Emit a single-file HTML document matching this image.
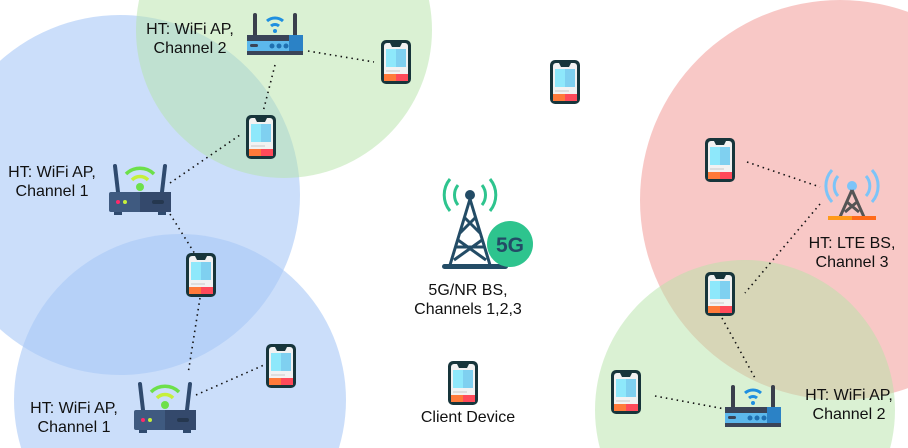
<!DOCTYPE html>
<html><head><meta charset="utf-8"><style>
html,body{margin:0;padding:0;background:#fff;width:908px;height:448px;overflow:hidden}
svg{display:block;overflow:hidden}
text{font-family:"Liberation Sans",Arial,sans-serif;font-size:16px;fill:#111;text-anchor:middle}
</style></head><body>
<svg width="908" height="448" viewBox="0 0 908 448" xmlns="http://www.w3.org/2000/svg">
<defs>
<clipPath id="clip"><rect x="0" y="0" width="908" height="448"/></clipPath>
<g id="phone">
<rect x="-15" y="-22" width="30" height="44" rx="5" fill="#17353b"/>
<rect x="-12" y="-19" width="24" height="38" rx="3" fill="#f2f2f2"/>
<path d="M-6,-19 h12 l-2,4 h-8z" fill="#17353b"/>
<rect x="-10" y="-13" width="20" height="18" fill="#8ee8fb"/>
<rect x="0" y="-13" width="10" height="18" fill="#7fd0f0"/>
<rect x="-10" y="8" width="14" height="2" fill="#ddd"/>
<rect x="-12" y="12" width="12" height="7" fill="#ff7a3a"/>
<rect x="0" y="12" width="12" height="7" fill="#ff4a5a"/>
</g>
<g id="routerG">
<line x1="-22" y1="-8" x2="-25" y2="-34" stroke="#2f4a6e" stroke-width="4" stroke-linecap="round"/>
<line x1="22" y1="-8" x2="25" y2="-34" stroke="#2f4a6e" stroke-width="4" stroke-linecap="round"/>
<path d="M-14,-26 a20,20 0 0 1 28,0" stroke="#6de04a" stroke-width="3.5" fill="none"/>
<path d="M-8,-20 a11,11 0 0 1 16,0" stroke="#c6f03a" stroke-width="3.5" fill="none"/>
<circle cx="0" cy="-13" r="4" fill="#6de04a"/>
<rect x="-31" y="-8" width="62" height="20" rx="2" fill="#3f5a80"/>
<rect x="0" y="-8" width="31" height="20" fill="#34496c"/>
<circle cx="-22" cy="2" r="2" fill="#ff2a6a"/><circle cx="-15" cy="2" r="2" fill="#c6f03a"/>
<rect x="12" y="0" width="12" height="4" rx="2" fill="#25374f"/>
<rect x="-26" y="12" width="8" height="3" fill="#2f4a6e"/><rect x="18" y="12" width="8" height="3" fill="#2f4a6e"/>
</g>
<g id="routerB">
<line x1="-20" y1="-6" x2="-20" y2="-28" stroke="#3a3f4c" stroke-width="4" stroke-linecap="round"/>
<line x1="20" y1="-6" x2="20" y2="-28" stroke="#3a3f4c" stroke-width="4" stroke-linecap="round"/>
<path d="M-8,-22 a12,12 0 0 1 16,0" stroke="#1f8fe0" stroke-width="3" fill="none"/>
<path d="M-4,-17 a6,6 0 0 1 8,0" stroke="#1f8fe0" stroke-width="3" fill="none"/>
<circle cx="0" cy="-12" r="2" fill="#1f8fe0"/>
<rect x="-28" y="-8" width="56" height="6" fill="#3a4458"/>
<rect x="-28" y="-2" width="56" height="10" fill="#5cb8ec"/>
<rect x="14" y="-8" width="14" height="16" fill="#2b82c6"/>
<rect x="-25" y="1" width="8" height="3" rx="1.5" fill="#3a4458"/>
<circle cx="-3" cy="3" r="2.5" fill="#1f6fb0"/><circle cx="4" cy="3" r="2.5" fill="#1f6fb0"/><circle cx="11" cy="3" r="2.5" fill="#1f6fb0"/>
<rect x="-28" y="8" width="56" height="4" fill="#3a4458"/>
</g>
</defs>
<g clip-path="url(#clip)">
<circle cx="120" cy="195" r="180" fill="#a8c8f7" fill-opacity="0.6"/>
<circle cx="180" cy="400" r="166" fill="#a8c8f7" fill-opacity="0.6"/>
<circle cx="284" cy="30" r="148" fill="#b5e3a8" fill-opacity="0.5"/>
<circle cx="840" cy="200" r="200" fill="#f29a98" fill-opacity="0.55"/>
<circle cx="745" cy="410" r="150" fill="#b5e3a8" fill-opacity="0.5"/>
</g>
<g stroke="#111" stroke-width="1.6" stroke-dasharray="1.5 4" fill="none">
<line x1="275" y1="65" x2="263" y2="112"/>
<line x1="308" y1="51" x2="374" y2="62"/>
<line x1="170" y1="183" x2="240" y2="135"/>
<line x1="170" y1="214" x2="195" y2="254"/>
<line x1="200" y1="298" x2="188" y2="374"/>
<line x1="196" y1="395" x2="264" y2="365"/>
<line x1="747" y1="162" x2="820" y2="187"/>
<line x1="820" y1="204" x2="745" y2="293"/>
<line x1="722" y1="318" x2="755" y2="378"/>
<line x1="655" y1="396" x2="725" y2="409"/>
</g>
<use href="#phone" x="396" y="62"/><use href="#phone" x="565" y="82"/>
<use href="#phone" x="261" y="137"/><use href="#phone" x="201" y="275"/>
<use href="#phone" x="281" y="366"/><use href="#phone" x="463" y="383"/>
<use href="#phone" x="720" y="160"/><use href="#phone" x="720" y="294"/>
<use href="#phone" x="626" y="392"/>
<use href="#routerB" x="275" y="43"/>
<use href="#routerB" x="753" y="415"/>
<use href="#routerG" x="140" y="200"/>
<use href="#routerG" x="165" y="418"/>
<g transform="translate(852,190)">
<path d="M-14,-14 a15,15 0 0 0 0,20 M14,-14 a15,15 0 0 1 0,20" stroke="#7cc4f8" stroke-width="3" fill="none"/>
<path d="M-20,-20 a24,24 0 0 0 0,32 M20,-20 a24,24 0 0 1 0,32" stroke="#7cc4f8" stroke-width="3" fill="none"/>
<circle cx="0" cy="-4" r="5" fill="#7cc4f8"/>
<path d="M0,0 L-12,27 M0,0 L12,27 M-5,12 L7,22 M5,12 L-7,22" stroke="#555" stroke-width="3" fill="none"/>
<rect x="-24" y="26" width="48" height="4" fill="#ff9a1a"/><rect x="0" y="26" width="24" height="4" fill="#ff6a1a"/>
</g>
<g transform="translate(470,215)">
<path d="M-12,-30 a16,16 0 0 0 0,20 M12,-30 a16,16 0 0 1 0,20 M-20,-36 a25,25 0 0 0 0,32 M20,-36 a25,25 0 0 1 0,32" stroke="#2ec48e" stroke-width="3" fill="none"/>
<circle cx="0" cy="-20" r="5" fill="#234c66"/>
<path d="M0,-16 L-20,50 M0,-16 L20,50 M-6,2 L10,18 M6,2 L-10,18 M-12,25 L16,45 M12,25 L-16,45 M-14,32 L14,32" stroke="#234c66" stroke-width="3" fill="none"/>
<rect x="-28" y="49" width="66" height="5" rx="2.5" fill="#234c66"/>
<circle cx="40" cy="29" r="23" fill="#2ec48e"/>
<text x="40" y="37" style="font-size:21px;font-weight:bold;fill:#234c66">5G</text>
</g>
<text x="190" y="34">HT: WiFi AP,</text><text x="190" y="53">Channel 2</text>
<text x="52" y="177">HT: WiFi AP,</text><text x="52" y="196">Channel 1</text>
<text x="74" y="413">HT: WiFi AP,</text><text x="74" y="432">Channel 1</text>
<text x="468" y="295">5G/NR BS,</text><text x="468" y="314">Channels 1,2,3</text>
<text x="468" y="422">Client Device</text>
<text x="852" y="248">HT: LTE BS,</text><text x="852" y="267">Channel 3</text>
<text x="849" y="400">HT: WiFi AP,</text><text x="849" y="419">Channel 2</text>
</svg>
</body></html>
